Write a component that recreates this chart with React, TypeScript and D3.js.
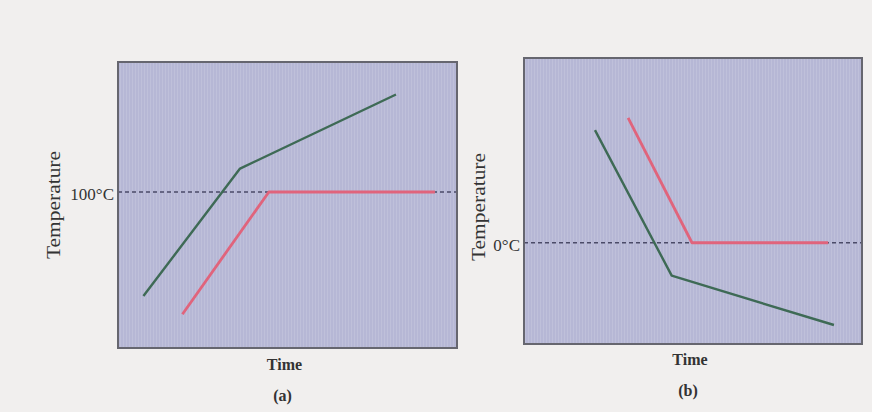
import React from "react";
import * as d3 from "d3";

// Panel (a): heating
const timeA_green = [7.5, 36, 82];
const tempA_green = [60, 109, 137.5];
const timeA_red = [19, 44.5, 93.5];
const tempA_red = [53, 100, 100];
const refA = 100; // 100°C
const labelRefA = "100°C";

// Panel (b): cooling
const timeB_green = [21, 43.7, 91.7];
const tempB_green = [44.5, -13, -32.5];
const timeB_red = [30.8, 49.7, 90];
const tempB_red = [49.3, 0, 0];
const refB = 0; // 0°C
const labelRefB = "0°C";

const axisLabels = ["Temperature", "Time"];
const panelLabels = ["(a)", "(b)"];

const W = 872;
const H = 412;
const FONT = "'Liberation Serif', 'DejaVu Serif', Times, serif";

type PanelProps = {
  x0: number; x1: number; y0: number; y1: number;
  tDomain: [number, number];
  green: [number[], number[]];
  red: [number[], number[]];
  ref: number; refLabel: string; refExtend: number;
  tempLabelX: number; tempLabelY: number; timeLabelY: number; panelLabelY: number;
  panelLabel: string; patternId: string;
};

function Panel(p: PanelProps) {
  const x = d3.scaleLinear().domain([0, 100]).range([p.x0, p.x1]);
  const y = d3.scaleLinear().domain(p.tDomain).range([p.y1, p.y0]);
  const line = d3.line<[number, number]>().x(d => x(d[0])).y(d => y(d[1]));
  const g = p.green[0].map((t, i) => [t, p.green[1][i]] as [number, number]);
  const r = p.red[0].map((t, i) => [t, p.red[1][i]] as [number, number]);
  const cx = (p.x0 + p.x1) / 2;
  return (
    <g>
      <rect x={p.x0} y={p.y0} width={p.x1 - p.x0} height={p.y1 - p.y0} fill="#b6b7d5" />
      <rect x={p.x0} y={p.y0} width={p.x1 - p.x0} height={p.y1 - p.y0} fill={`url(#${p.patternId})`} />
      <line x1={x(0)} x2={x(p.refExtend)} y1={y(p.ref)} y2={y(p.ref)}
        stroke="#4b4b68" strokeWidth={1.3} strokeDasharray="4,3" />
      <path d={line(g) || ""} fill="none" stroke="#3e6a55" strokeWidth={2.4} strokeLinejoin="round" />
      <path d={line(r) || ""} fill="none" stroke="#e0647c" strokeWidth={2.8} strokeLinejoin="round" />
      <rect x={p.x0} y={p.y0} width={p.x1 - p.x0} height={p.y1 - p.y0} fill="none" stroke="#66666f" strokeWidth={2} />
      <text x={p.x0 - 4} y={y(p.ref) + 2} dy="0.35em" textAnchor="end" fontFamily={FONT} fontSize={17} fill="#333">{p.refLabel}</text>
      <text transform={`translate(${p.tempLabelX},${p.tempLabelY}) rotate(-90)`} textAnchor="middle" dy="0.35em"
        fontFamily={FONT} fontSize={18} fill="#333" textLength={108} lengthAdjust="spacingAndGlyphs">{axisLabels[0]}</text>
      <text x={cx - 3} y={p.timeLabelY} dy="0.35em" textAnchor="middle" fontFamily={FONT} fontSize={16} fontWeight="bold" fill="#333">{axisLabels[1]}</text>
      <text x={cx - 5} y={p.panelLabelY} dy="0.35em" textAnchor="middle" fontFamily={FONT} fontSize={16} fontWeight="bold" fill="#333">{p.panelLabel}</text>
    </g>
  );
}

export default function App() {
  return (
    <svg width={W} height={H} style={{ position: "fixed", left: 0, top: 0 }}>
      <defs>
        <pattern id="dots" width="3" height="3" patternUnits="userSpaceOnUse">
          <rect x="0" y="0" width="1" height="3" fill="#ffffff" opacity="0.12" />
        </pattern>
      </defs>
      <rect x={0} y={0} width={W} height={H} fill="#f1efee" />
      <Panel x0={118} x1={457} y0={62} y1={348} tDomain={[40, 150]}
        green={[timeA_green, tempA_green]} red={[timeA_red, tempA_red]}
        ref={refA} refLabel={labelRefA} refExtend={101}
        tempLabelX={54} tempLabelY={205} timeLabelY={364} panelLabelY={395} panelLabel={panelLabels[0]} patternId="dots" />
      <Panel x0={524} x1={862} y0={58} y1={344} tDomain={[-40, 73]}
        green={[timeB_green, tempB_green]} red={[timeB_red, tempB_red]}
        ref={refB} refLabel={labelRefB} refExtend={100}
        tempLabelX={479} tempLabelY={207} timeLabelY={359} panelLabelY={390} panelLabel={panelLabels[1]} patternId="dots" />
    </svg>
  );
}
